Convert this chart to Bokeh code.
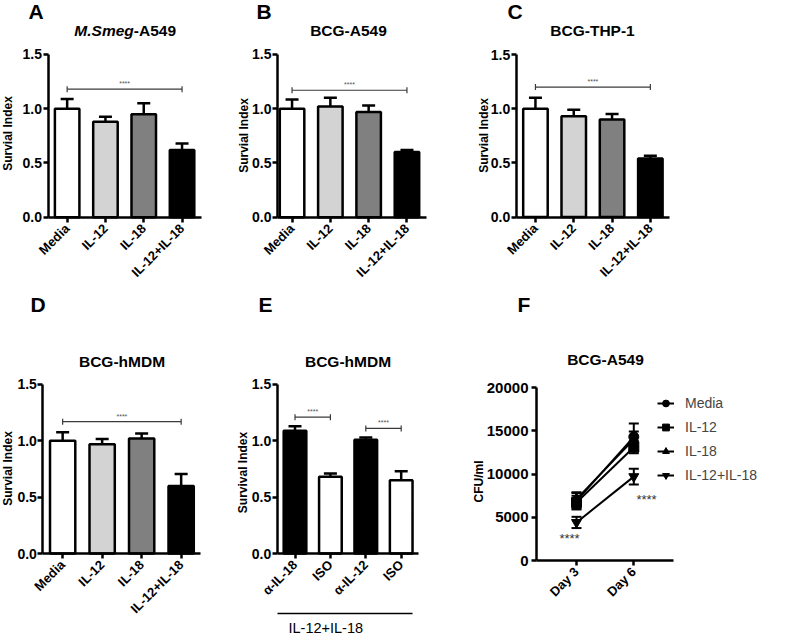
import math
from bokeh.plotting import figure
from bokeh.models import (Range1d, FixedTicker, PrintfTickFormatter, Label, Whisker,
                          TeeHead, ColumnDataSource, Legend, LegendItem)
from bokeh.layouts import column, row
from bokeh.embed import file_html
from bokeh.resources import INLINE
from bokeh.core.properties import value

FONT = "Liberation Sans"

# ------------------------------------------------------------------ data
categories = ["Media", "IL-12", "IL-18", "IL-12+IL-18"]
bar_colors = ["#ffffff", "#d3d3d3", "#808080", "#000000"]
y_ticks = [0.0, 0.5, 1.0, 1.5]

a_mean = [1.00, 0.88, 0.95, 0.62]
a_sem = [0.09, 0.045, 0.10, 0.06]
a_sig = [(0, 3, 1.18)]

b_mean = [1.00, 1.02, 0.97, 0.60]
b_sem = [0.085, 0.08, 0.06, 0.02]
b_sig = [(0, 3, 1.17)]

c_mean = [1.00, 0.93, 0.90, 0.54]
c_sem = [0.10, 0.06, 0.05, 0.025]
c_sig = [(0, 3, 1.20)]

d_mean = [1.00, 0.97, 1.02, 0.60]
d_sem = [0.075, 0.045, 0.045, 0.105]
d_sig = [(0, 3, 1.17)]

e_categories = ["α-IL-18", "ISO", "α-IL-12", "ISO"]
e_colors = ["#000000", "#ffffff", "#000000", "#ffffff"]
e_mean = [1.09, 0.68, 1.01, 0.65]
e_sem = [0.04, 0.03, 0.02, 0.08]
e_sig = [(0, 1, 1.21), (2, 3, 1.11)]
e_group = "IL-12+IL-18"

days = ["Day 3", "Day 6"]
f_series = ["Media", "IL-12", "IL-18", "IL-12+IL-18"]
f_markers = ["circle", "square", "triangle", "inverted_triangle"]
f_media = [6900, 14300]
f_media_sem = [900, 1550]
f_il12 = [6700, 13100]
f_il12_sem = [800, 700]
f_il18 = [7100, 14000]
f_il18_sem = [800, 900]
f_combo = [4400, 9700]
f_combo_sem = [650, 900]
f_y_ticks = [0, 5000, 10000, 15000, 20000]
sig_text = "****"


# ------------------------------------------------------------------ helpers
def style_axis(ax, size):
    ax.axis_line_width = 2.5
    ax.axis_line_color = "black"
    ax.major_tick_line_width = 2.5
    ax.major_tick_line_color = "black"
    ax.major_tick_out = 5
    ax.major_tick_in = 0
    ax.minor_tick_line_color = None
    ax.major_label_text_font = FONT
    ax.major_label_text_font_style = "bold"
    ax.major_label_text_font_size = size
    ax.major_label_text_color = "black"


class Panel:
    """A figure whose frame fills the whole panel; axes are pinned with fixed_location."""

    def __init__(self, fx0, fy0, w, h, x0px, xs, y0px, ys):
        self.x0px, self.xs, self.y0px, self.ys = x0px, xs, y0px, ys
        xr = (self.dx(fx0), self.dx(fx0 + w))
        yr = (self.dy(fy0 + h), self.dy(fy0))
        p = figure(width=w, height=h, x_range=Range1d(*xr), y_range=Range1d(*yr),
                   min_border=0, output_backend="svg", toolbar_location=None)
        p.grid.visible = False
        p.outline_line_color = None
        p.background_fill_color = "white"
        p.border_fill_color = "white"
        self.p = p

    def dx(self, px):
        return (px - self.x0px) / self.xs

    def dy(self, py):
        return (self.y0px - py) / self.ys

    def label(self, px, py, text, size="12px", style="bold", align="left", angle=0.0):
        # py is the vertical centre of the capitals
        self.p.add_layout(Label(x=self.dx(px), y=self.dy(py), text=text,
                                text_font=FONT, text_font_size=size, text_font_style=style,
                                text_align=align, text_baseline="middle", angle=angle,
                                text_color="black"))


def bar_panel(geom, axis_x, cats, colors, means, sems, sigs, letter_xy,
              title_parts, title_xy, ylabel, ylabel_xy):
    pn = Panel(*geom)
    p = pn.p
    n = len(cats)
    xs = [i + 0.5 for i in range(n)]
    src = ColumnDataSource(dict(x=xs, top=means,
                                upper=[m + s for m, s in zip(means, sems)],
                                color=colors))
    p.add_layout(Whisker(source=src, base="x", lower="top", upper="upper",
                         line_width=2.5, line_color="black", lower_head=None,
                         upper_head=TeeHead(size=13, line_width=2.5, line_color="black")))
    p.vbar(x="x", top="top", bottom=0, width=0.64, source=src, fill_color="color",
           line_color="black", line_width=2.5)

    sx0 = [xs[i] for i, j, y in sigs]
    sx1 = [xs[j] for i, j, y in sigs]
    sy = [y for i, j, y in sigs]
    ssrc = ColumnDataSource(dict(x0=sx0, x1=sx1, y=sy,
                                 xc=[(a + c) / 2 for a, c in zip(sx0, sx1)],
                                 t=[sig_text] * len(sy)))
    p.add_layout(Whisker(source=ssrc, base="y", lower="x0", upper="x1", dimension="width",
                         line_width=1.2, line_color="#3a3a3a",
                         lower_head=TeeHead(size=6, line_width=1.2, line_color="#3a3a3a"),
                         upper_head=TeeHead(size=6, line_width=1.2, line_color="#3a3a3a")))
    p.text(x="xc", y="y", text="t", source=ssrc, text_font=value(FONT),
           text_font_size="7px", text_align="center", text_baseline="bottom",
           y_offset=-2, text_color="#555555")

    xa = p.xaxis[0]
    style_axis(xa, "13px")
    xa.fixed_location = 0
    xa.bounds = (axis_x, n)
    xa.ticker = FixedTicker(ticks=xs)
    xa.major_label_overrides = {x: c for x, c in zip(xs, cats)}
    xa.major_label_orientation = math.pi / 4
    xa.major_label_standoff = 4
    ya = p.yaxis[0]
    style_axis(ya, "14px")
    ya.fixed_location = axis_x
    ya.bounds = (0, 1.5)
    ya.ticker = FixedTicker(ticks=y_ticks)
    ya.formatter = PrintfTickFormatter(format="%.1f")
    ya.major_label_standoff = 1

    pn.label(letter_xy[0], letter_xy[1], letter_xy[2], size="21px")
    for text, style, align in title_parts:
        pn.label(title_xy[0], title_xy[1], text, size="15.5px", style=style, align=align)
    pn.label(ylabel_xy[0], ylabel_xy[1], ylabel, size="12px", align="center",
             angle=math.pi / 2)
    return pn


# ------------------------------------------------------------------ top row
pnA = bar_panel((0, 0, 232, 290, 47.5, 38.3, 216.7, 108.5), 0, categories, bar_colors,
                a_mean, a_sem, a_sig, (28, 11, "A"),
                [("M.Smeg", "bold italic", "right"), ("-A549", "bold", "left")], (133.3, 30),
                "Survial Index", (7, 133))
pnB = bar_panel((232, 0, 238, 290, 272.4, 38.3, 216.7, 108.5), 0.12, categories, bar_colors,
                b_mean, b_sem, b_sig, (256, 11, "B"),
                [("BCG-A549", "bold", "center")], (348, 30),
                "Survial Index", (243, 135))
pnC = bar_panel((470, 0, 330, 290, 515.8, 38.3, 216.5, 108.3), 0, categories, bar_colors,
                c_mean, c_sem, c_sig, (507, 11, "C"),
                [("BCG-THP-1", "bold", "center")], (592, 30),
                "Survial Index", (483, 135))

# ------------------------------------------------------------------ bottom row
pnD = bar_panel((0, 290, 232, 344, 42.4, 39.5, 553, 112.7), 0, categories, bar_colors,
                d_mean, d_sem, d_sig, (30, 304, "D"),
                [("BCG-hMDM", "bold", "center")], (121.5, 360.5),
                "Survial Index", (7, 468))
pnE = bar_panel((232, 290, 238, 344, 276.8, 35.4, 553, 112.7), 0, e_categories, e_colors,
                e_mean, e_sem, e_sig, (258, 304, "E"),
                [("BCG-hMDM", "bold", "center")], (347.5, 360.5),
                "Survival Index", (242, 472))
# group bracket under panel E
pE = pnE.p
pE.segment(x0=[pnE.dx(277)], y0=[pnE.dy(613)], x1=[pnE.dx(412)], y1=[pnE.dy(613)],
           line_width=1.5, line_color="black")
pnE.label(288, 627, e_group, size="14.5px", style="normal")

# panel F
pnF = Panel(470, 290, 330, 344, 518.7, 57.3, 560, 173 / 20000)
pF = pnF.p
fx = [1, 2]
items = []
series = [(f_media, f_media_sem), (f_il12, f_il12_sem), (f_il18, f_il18_sem), (f_combo, f_combo_sem)]
for name, marker, (vals, sems) in zip(f_series, f_markers, series):
    src = ColumnDataSource(dict(x=fx, y=vals,
                                lo=[v - s for v, s in zip(vals, sems)],
                                hi=[v + s for v, s in zip(vals, sems)]))
    pF.add_layout(Whisker(source=src, base="x", lower="lo", upper="hi",
                          line_width=2, line_color="black",
                          lower_head=TeeHead(size=10, line_width=2, line_color="black"),
                          upper_head=TeeHead(size=10, line_width=2, line_color="black")))
    lr = pF.line("x", "y", source=src, line_width=2, line_color="black")
    sr = pF.scatter("x", "y", source=src, marker=marker, size=10,
                    fill_color="black", line_color="black")
    items.append(LegendItem(label=name, renderers=[lr, sr]))

pF.text(x=[pnF.dx(569), pnF.dx(646)], y=[pnF.dy(538), pnF.dy(499)],
        text=[sig_text, sig_text], text_font=value(FONT),
        text_font_size="13px", text_align="center", text_baseline="middle",
        text_color="#333333")

legend = Legend(items=items, location=(657 - 470, 634 - 486.6), border_line_color=None,
                background_fill_alpha=0, padding=0, margin=0, spacing=0,
                glyph_width=17, glyph_height=24, label_standoff=11,
                label_text_font=FONT, label_text_font_size="14px", label_height=20)
pF.add_layout(legend)

fxa = pF.xaxis[0]
style_axis(fxa, "13px")
fxa.fixed_location = 0
fxa.bounds = (pnF.dx(536), pnF.dx(673))
fxa.ticker = FixedTicker(ticks=fx)
fxa.major_label_overrides = {x: d for x, d in zip(fx, days)}
fxa.major_label_orientation = math.pi / 4
fxa.major_label_standoff = 4
fya = pF.yaxis[0]
style_axis(fya, "15px")
fya.fixed_location = pnF.dx(536)
fya.bounds = (0, 20000)
fya.ticker = FixedTicker(ticks=f_y_ticks)
fya.formatter = PrintfTickFormatter(format="%d")
fya.major_label_standoff = 3
pnF.label(517, 304, "F", size="21px")
pnF.label(605, 359, "BCG-A549", size="15.5px", align="center")
pnF.label(478, 481, "CFU/ml", size="12px", align="center", angle=math.pi / 2)

layout = column(row(pnA.p, pnB.p, pnC.p), row(pnD.p, pnE.p, pF))
open("out.html", "w").write(file_html(layout, INLINE))
